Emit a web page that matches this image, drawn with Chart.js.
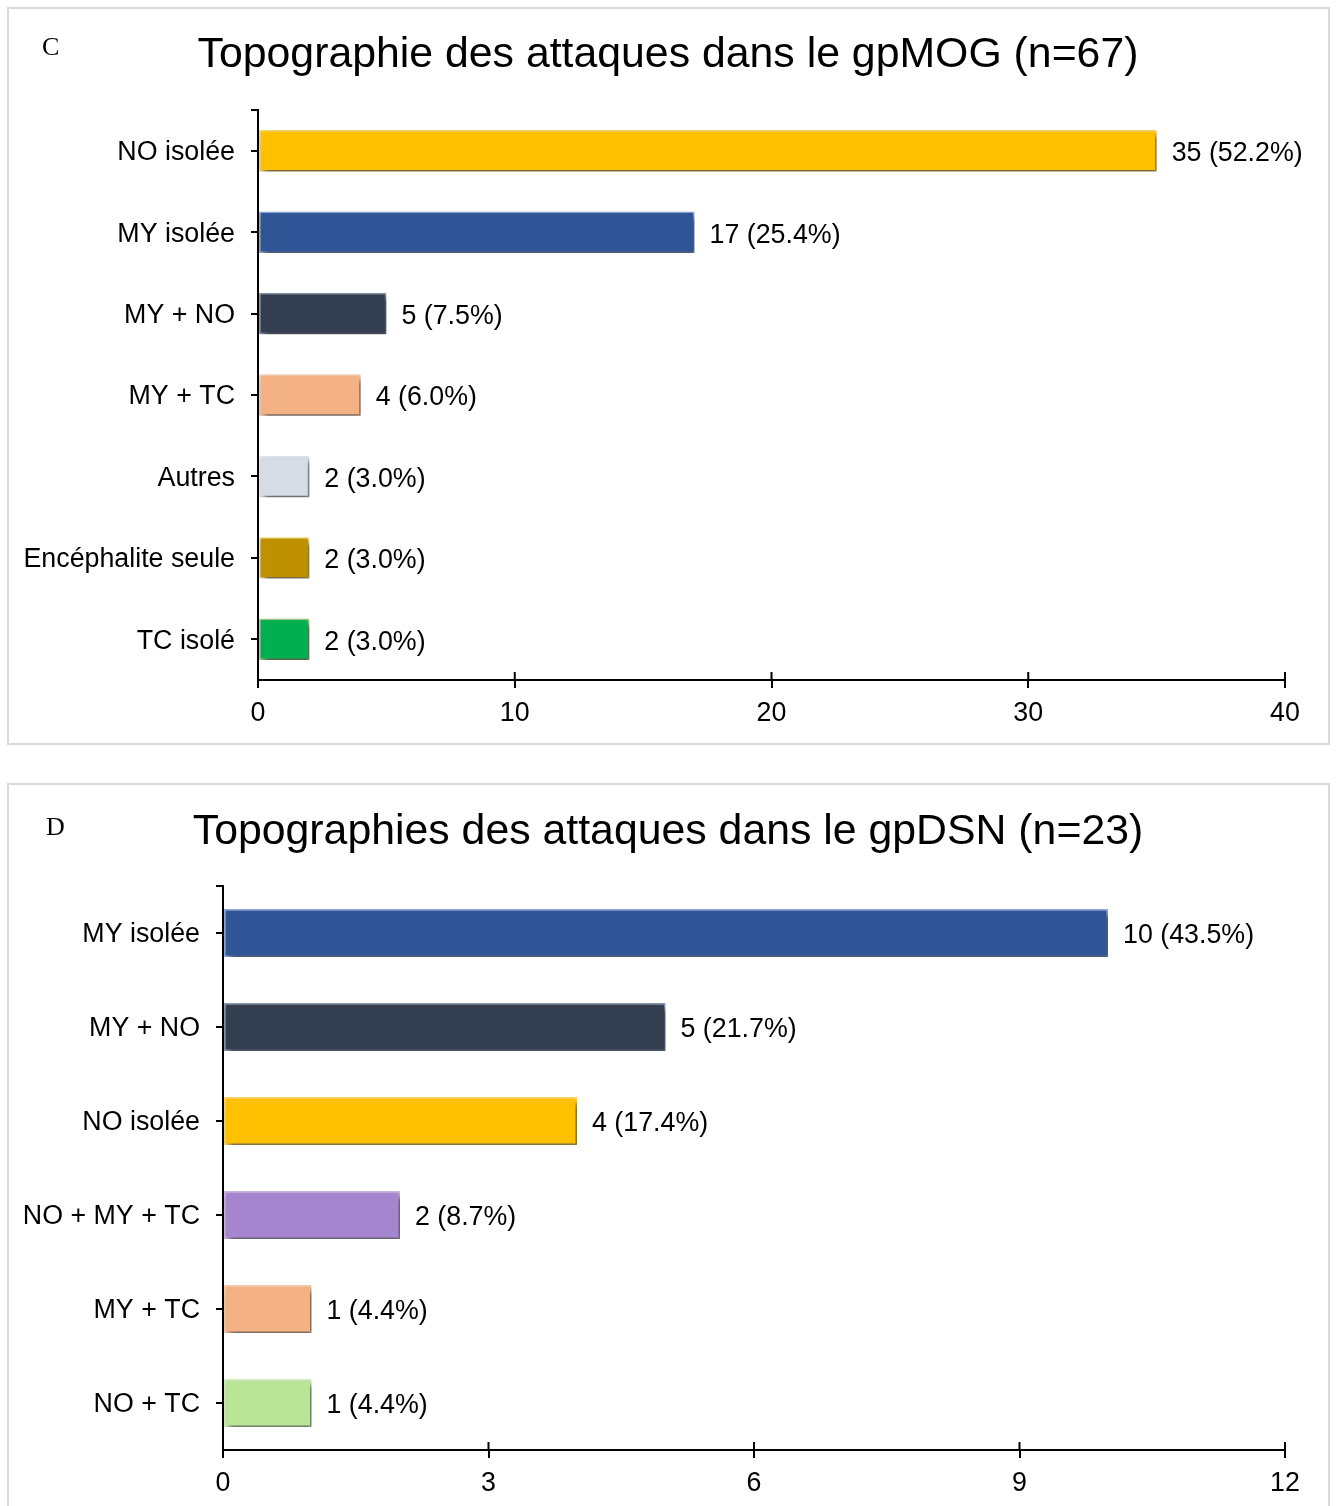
<!DOCTYPE html>
<html><head><meta charset="utf-8">
<script src="https://cdn.jsdelivr.net/npm/chart.js@4/dist/chart.umd.min.js"></script>
<style>
html,body{margin:0;padding:0;background:#fff;overflow:hidden;width:1339px;height:1506px;}
.box{position:absolute;border:2px solid #d9d9d9;box-sizing:border-box;}
.lbl{position:absolute;font-family:"Liberation Serif","Times New Roman",serif;font-size:26px;color:#000;line-height:1;}
canvas{position:absolute;}
</style></head>
<body>
<div class="box" style="left:7px;top:7px;width:1323px;height:738px;"></div>
<div class="box" style="left:7px;top:783px;width:1323px;height:760px;"></div>
<canvas id="c1" width="1318" height="734" style="left:9px;top:9px;"></canvas>
<canvas id="c2" width="1318" height="721" style="left:9px;top:785px;"></canvas>
<div class="lbl" style="left:42px;top:34px;">C</div>
<div class="lbl" style="left:46px;top:814px;">D</div>
<script>
// ---- Panel C data ----
const titleC = "Topographie des attaques dans le gpMOG (n=67)";
const categoriesC = ["NO isolée","MY isolée","MY + NO","MY + TC","Autres","Encéphalite seule","TC isolé"];
const valuesC = [35,17,5,4,2,2,2];
const percentC = ["52.2%","25.4%","7.5%","6.0%","3.0%","3.0%","3.0%"];
const colorsC = ["#FFC000","#2F5597","#333F50","#F4B183","#D6DCE5","#BF9000","#00B050"];
const bordersC = ["#FFD966","#8FAADC","#8497B0","#F8CBAD","#E7EBF2","#FFE699","#A9D18E"];
const ticksC = {min:0,max:40,step:10};

// ---- Panel D data ----
const titleD = "Topographies des attaques dans le gpDSN (n=23)";
const categoriesD = ["MY isolée","MY + NO","NO isolée","NO + MY + TC","MY + TC","NO + TC"];
const valuesD = [10,5,4,2,1,1];
const percentD = ["43.5%","21.7%","17.4%","8.7%","4.4%","4.4%"];
const colorsD = ["#2F5597","#333F50","#FFC000","#A585CD","#F4B183","#B9E597"];
const bordersD = ["#8FAADC","#8497B0","#FFD966","#C9B5E2","#F8CBAD","#D5F0C0"];
const ticksD = {min:0,max:12,step:3};

const FONT = "'Liberation Sans', Arial, Helvetica, sans-serif";
const LBL = 26.8;

const shadowPlugin = {
  id:'shadow',
  beforeDatasetsDraw(chart){
    const c=chart.ctx; c.save();
    c.shadowColor='rgba(0,0,0,0.6)'; c.shadowBlur=6; c.shadowOffsetX=3; c.shadowOffsetY=4;
  },
  afterDatasetsDraw(chart){ chart.ctx.restore(); }
};
const labelPlugin = {
  id:'vlabels',
  afterDatasetsDraw(chart, args, opts){
    const c=chart.ctx; const meta=chart.getDatasetMeta(0);
    const ds=chart.data.datasets[0];
    c.save(); c.font=LBL+"px "+FONT; c.fillStyle='#000'; c.textAlign='left'; c.textBaseline='middle';
    meta.data.forEach((bar,i)=>{
      c.fillText(ds.data[i]+" ("+opts.pct[i]+")", bar.x+15, bar.y+3);
    });
    c.restore();
  }
};
const titlePlugin = {
  id:'ctitle',
  afterDraw(chart, args, opts){
    const c=chart.ctx; c.save();
    c.font=opts.size+"px "+FONT; c.fillStyle='#000'; c.textAlign='center'; c.textBaseline='alphabetic';
    c.fillText(opts.text, chart.width/2, opts.baseline);
    c.restore();
  }
};
const axisExtras = {
  id:'axisExtras',
  afterDraw(chart){
    const c=chart.ctx, x=chart.scales.x, y=chart.scales.y;
    c.save(); c.strokeStyle='#000'; c.lineWidth=2;
    c.beginPath();
    c.moveTo(y.right-7, y.top); c.lineTo(y.right+1, y.top);
    x.ticks.forEach(t=>{ const px=x.getPixelForValue(t.value); c.moveTo(px, x.top); c.lineTo(px, x.top-8); });
    c.stroke(); c.restore();
  }
};

function makeChart(id, title, baseline, cats, vals, pct, cols, bords, tk, yWidth, chartTop, chartBottom){
  const canvas=document.getElementById(id);
  const H=canvas.height;
  return new Chart(canvas, {
    type:'bar',
    data:{labels:cats, datasets:[{data:vals, backgroundColor:cols, borderColor:bords, borderWidth:1.5, borderSkipped:false, barPercentage:1, categoryPercentage:0.51}]},
    options:{
      indexAxis:'y', responsive:false, animation:false, devicePixelRatio:1,
      layout:{padding:{left:0,right:42,top:chartTop,bottom:0}},
      plugins:{
        legend:{display:false}, tooltip:{enabled:false}, title:{display:false},
        ctitle:{text:title, size:42.8, baseline:baseline},
        vlabels:{pct:pct}
      },
      scales:{
        x:{min:tk.min,max:tk.max, ticks:{stepSize:tk.step, color:'#000', font:{family:FONT,size:LBL}, padding:10},
           grid:{display:true, drawOnChartArea:false, drawTicks:true, tickLength:8, color:'#000', lineWidth:2},
           border:{display:true,color:'#000',width:2},
           afterFit(s){ s.height = H - chartBottom; }},
        y:{offset:true, ticks:{color:'#000', font:{family:FONT,size:LBL}, padding:16, labelOffset:2},
           grid:{display:true, offset:false, drawOnChartArea:false, drawTicks:true, tickLength:7, color:'#000', lineWidth:2},
           border:{display:true,color:'#000',width:2},
           afterFit(s){ s.width = yWidth; }}
      }
    },
    plugins:[shadowPlugin,labelPlugin,axisExtras,titlePlugin]
  });
}
makeChart('c1', titleC, 58, categoriesC, valuesC, percentC, colorsC, bordersC, ticksC, 249, 101, 671);
makeChart('c2', titleD, 59, categoriesD, valuesD, percentD, colorsD, bordersD, ticksD, 214, 101, 665);
</script>
</body></html>
